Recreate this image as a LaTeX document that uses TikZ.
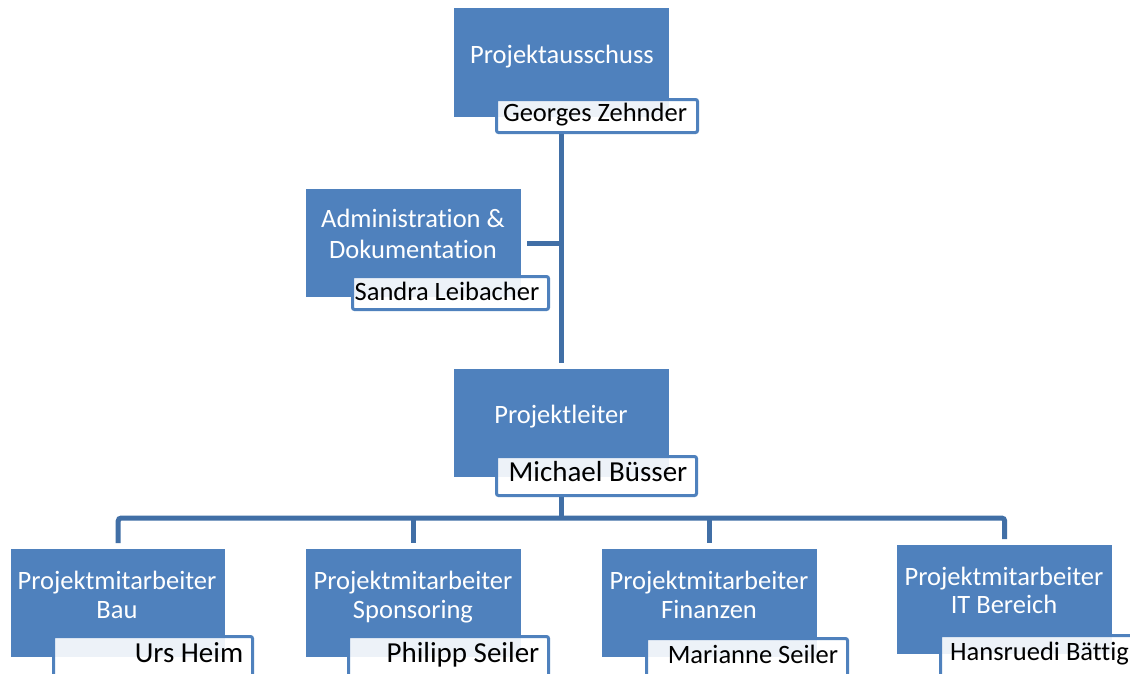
\documentclass[tikz,border=0pt]{standalone}
\usepackage{fontspec}
\setmainfont{Carlito}[Ligatures=NoCommon]
\definecolor{boxblue}{HTML}{4F81BD}
\definecolor{lineblue}{HTML}{416FA6}
\begin{document}
\begin{tikzpicture}[x=1pt,y=-1pt,
  role/.style={draw=none,fill=boxblue,inner sep=0pt,anchor=north west},
  namebox/.style={draw=boxblue,line width=3pt,fill=white,fill opacity=0.9,text opacity=1,rounded corners=2pt,inner sep=0pt,anchor=north west},
  roletext/.style={text=white,font=\fontsize{26.5}{30}\selectfont,anchor=base,inner sep=0pt},
  nametext/.style={text=black,font=\fontsize{26.5}{30}\selectfont,anchor=base,inner sep=0pt},
  bigname/.style={text=black,font=\fontsize{29}{33}\selectfont,anchor=base,inner sep=0pt},
  conn/.style={draw=lineblue,line width=5pt}]
\useasboundingbox (0,0) rectangle (1130,673);
\clip (0,0) rectangle (1130,673);
\fill[white] (0,0) rectangle (1130,673);

% blue role boxes
\node[role,minimum width=215pt,minimum height=109pt] (pa) at (454,8) {};
\node[role,minimum width=215pt,minimum height=108pt] (adm) at (306,189) {};
\node[role,minimum width=215pt,minimum height=108pt] (pl) at (454,369) {};
\node[role,minimum width=214pt,minimum height=108pt] (b1) at (11,549) {};
\node[role,minimum width=215pt,minimum height=108pt] (b2) at (306,549) {};
\node[role,minimum width=215pt,minimum height=108pt] (b3) at (602,549) {};
\node[role,minimum width=215pt,minimum height=109pt] (b4) at (897,545) {};

% connectors
\coordinate (bus) at (0,518);
\draw[conn] (pa.south -| pl.north) ++(0,16) -- ([yshift=6pt]pl.north);
\draw[conn] ([xshift=6pt]adm.east) -- (adm.east -| pl.north);
\draw[conn] (pl.south) ++(0,18) -- (pl.north |- bus);
\draw[conn,rounded corners=3pt] ([yshift=6pt]b1.north) -- (b1.north |- bus) -- (b4.north |- bus) -- ([yshift=6pt]b4.north);
\draw[conn] (b2.north |- bus) -- ([yshift=6pt]b2.north);
\draw[conn] (b3.north |- bus) -- ([yshift=6pt]b3.north);

% name boxes
\node[namebox,minimum width=201pt,minimum height=33pt] (pan) at (495,98) {};
\node[namebox,minimum width=196pt,minimum height=33pt] (admn) at (351,275) {};
\node[namebox,minimum width=200pt,minimum height=39pt] (pln) at (495,455) {};
\node[namebox,minimum width=199pt,minimum height=50pt] (b1n) at (52,635) {};
\node[namebox,minimum width=200pt,minimum height=50pt] (b2n) at (347,635) {};
\node[namebox,minimum width=201pt,minimum height=50pt] (b3n) at (645,637) {};
\node[namebox,minimum width=220pt,minimum height=50pt] (b4n) at (939,634) {};

% role texts
\node[roletext] (tpa) at (562,63) {Projektausschuss};
\node[roletext] (tadm1) at (413,227) {Administration \&};
\node[roletext] (tadm2) at (413,258) {Dokumentation};
\node[roletext] (tpl) at (561,423) {Projektleiter};
\node[roletext] (tb1a) at (117,589) {Projektmitarbeiter};
\node[roletext] (tb1b) at (117,618) {Bau};
\node[roletext] (tb2a) at (413,589) {Projektmitarbeiter};
\node[roletext] (tb2b) at (413,618) {Sponsoring};
\node[roletext] (tb3a) at (709,589) {Projektmitarbeiter};
\node[roletext] (tb3b) at (709,618) {Finanzen};
\node[roletext] (tb4a) at (1004,585) {Projektmitarbeiter};
\node[roletext] (tb4b) at (1004,613) {IT Bereich};

% names
\node[nametext] (npa) at (595,121) {Georges Zehnder};
\node[nametext] (nadm) at (447,300) {Sandra Leibacher};
\node[bigname] (npl) at (598,481) {Michael Büsser};
\node[bigname] (nb1) at (189,662) {Urs Heim};
\node[bigname] (nb2) at (463,662) {Philipp Seiler};
\node[nametext] (nb3) at (753,663) {Marianne Seiler};
\node[nametext,anchor=base west] (nb4) at (950,660) {Hansruedi Bättig};
\end{tikzpicture}
\end{document}
